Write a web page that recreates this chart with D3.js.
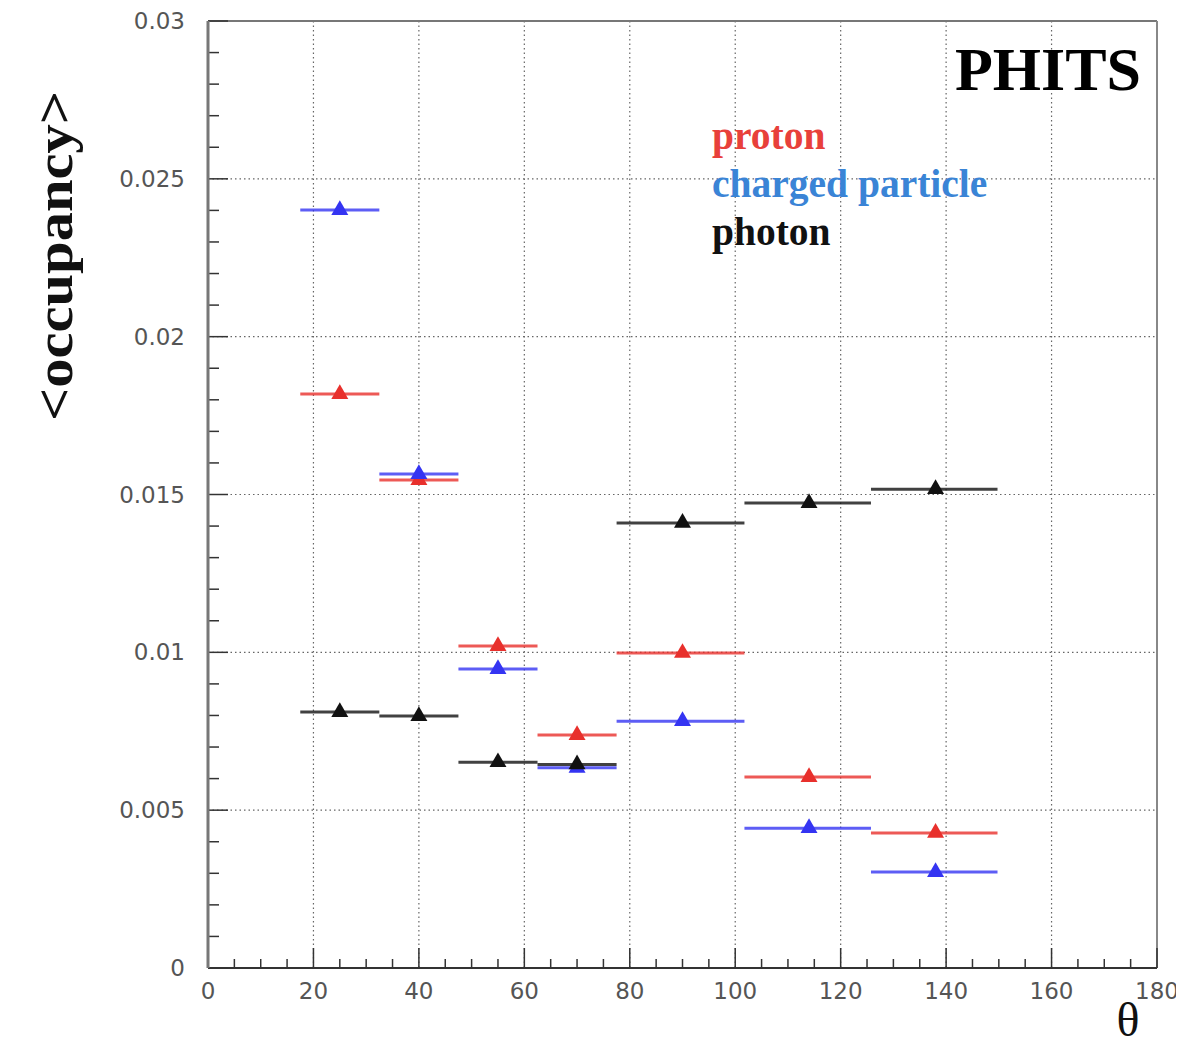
<!DOCTYPE html>
<meta charset="utf-8">
<script src="https://d3js.org/d3.v7.min.js"></script>
<style>
  body { margin: 0; background: #fff; }
</style>
<div id="chart"></div>
<script>
  // bins in theta (deg) and the mean occupancy per particle type
  var binLo = [17.5, 32.5, 47.5, 62.5, 77.5, 101.75, 125.75];
  var binHi = [32.5, 47.5, 62.5, 77.5, 101.75, 125.75, 149.75];
  var theta = [25, 40, 55, 70, 90, 114, 138];
  var proton  = [0.01818, 0.01546, 0.0102, 0.00738, 0.00998, 0.00605, 0.00428];
  var charged = [0.02401, 0.01565, 0.00947, 0.00634, 0.00782, 0.00443, 0.00304];
  var photon  = [0.00811, 0.00798, 0.00652, 0.00645, 0.0141, 0.01473, 0.01517];

  var xTicks = [0, 20, 40, 60, 80, 100, 120, 140, 160, 180];
  var yTicks = [0, 0.005, 0.01, 0.015, 0.02, 0.025, 0.03];
  var legendNames = ["proton", "charged particle", "photon"];

  var plotL = 208, plotR = 1157, plotT = 21, plotB = 968;

  var svg = d3.select("#chart").append("svg")
      .attr("width", 1176)
      .attr("height", 1047);

  var x = d3.scaleLinear().domain([0, 180]).range([plotL, plotR]);
  var y = d3.scaleLinear().domain([0, 0.03]).range([plotB, plotT]);

  // dotted grid
  svg.append("g").selectAll("line")
    .data(xTicks.slice(1, -1))
    .enter().append("line")
      .attr("x1", function(d) { return x(d); })
      .attr("x2", function(d) { return x(d); })
      .attr("y1", plotT).attr("y2", plotB)
      .attr("stroke", "#666").attr("stroke-width", 1.2)
      .attr("stroke-dasharray", "1.5,3");
  svg.append("g").selectAll("line")
    .data(yTicks.slice(1, -1))
    .enter().append("line")
      .attr("y1", function(d) { return y(d); })
      .attr("y2", function(d) { return y(d); })
      .attr("x1", plotL).attr("x2", plotR)
      .attr("stroke", "#666").attr("stroke-width", 1.2)
      .attr("stroke-dasharray", "1.5,3");

  // frame
  svg.append("line").attr("x1", plotL).attr("x2", plotR).attr("y1", plotT).attr("y2", plotT)
    .attr("stroke", "#777").attr("stroke-width", 2);
  svg.append("line").attr("x1", plotR).attr("x2", plotR).attr("y1", plotT).attr("y2", plotB)
    .attr("stroke", "#888").attr("stroke-width", 2);

  // x axis (ticks pointing into the plot)
  var xMinor = d3.range(0, 181, 5).filter(function(d) { return d % 20 !== 0; });
  svg.append("g").selectAll("line").data(xMinor).enter().append("line")
    .attr("x1", function(d) { return x(d); }).attr("x2", function(d) { return x(d); })
    .attr("y1", plotB).attr("y2", plotB - 9)
    .attr("stroke", "#333").attr("stroke-width", 1.5);
  svg.append("g").selectAll("line").data(xTicks).enter().append("line")
    .attr("x1", function(d) { return x(d); }).attr("x2", function(d) { return x(d); })
    .attr("y1", plotB).attr("y2", plotB - 20)
    .attr("stroke", "#333").attr("stroke-width", 1.5);
  svg.append("g").selectAll("text").data(xTicks).enter().append("text")
    .attr("x", function(d) { return x(d); })
    .attr("y", 999)
    .attr("text-anchor", "middle")
    .style("font-family", "DejaVu Sans")
    .style("font-size", "23px")
    .attr("fill", "#555")
    .text(function(d) { return String(d); });
  svg.append("line").attr("x1", plotL).attr("x2", plotR).attr("y1", plotB).attr("y2", plotB)
    .attr("stroke", "#333").attr("stroke-width", 2);

  // y axis
  var yMinor = d3.range(0, 31).map(function(i) { return i * 0.001; })
    .filter(function(d, i) { return i % 5 !== 0; });
  svg.append("g").selectAll("line").data(yMinor).enter().append("line")
    .attr("y1", function(d) { return y(d); }).attr("y2", function(d) { return y(d); })
    .attr("x1", plotL).attr("x2", plotL + 11)
    .attr("stroke", "#333").attr("stroke-width", 1.5);
  svg.append("g").selectAll("line").data(yTicks).enter().append("line")
    .attr("y1", function(d) { return y(d); }).attr("y2", function(d) { return y(d); })
    .attr("x1", plotL).attr("x2", plotL + 20)
    .attr("stroke", "#333").attr("stroke-width", 1.5);
  svg.append("g").selectAll("text").data(yTicks).enter().append("text")
    .attr("x", 185)
    .attr("y", function(d) { return y(d) + 8; })
    .attr("text-anchor", "end")
    .style("font-family", "DejaVu Sans")
    .style("font-size", "23px")
    .attr("fill", "#555")
    .text(function(d) { return String(d); });
  svg.append("line").attr("x1", plotL).attr("x2", plotL).attr("y1", plotT).attr("y2", plotB)
    .attr("stroke", "#777").attr("stroke-width", 3);

  // series
  var series = [
    {name: "proton", values: proton, color: "#e8302c"},
    {name: "charged", values: charged, color: "#3434f2"},
    {name: "photon", values: photon, color: "#111"}
  ];
  var tri = d3.symbol().type(d3.symbolTriangle).size(125);

  series.forEach(function(s) {
    var g = svg.append("g");
    g.selectAll("line").data(s.values).enter().append("line")
      .attr("x1", function(d, i) { return x(binLo[i]); })
      .attr("x2", function(d, i) { return x(binHi[i]); })
      .attr("y1", function(d) { return y(d); })
      .attr("y2", function(d) { return y(d); })
      .attr("stroke", s.color).attr("stroke-width", 3)
      .attr("stroke-opacity", 0.8);
    g.selectAll("path").data(s.values).enter().append("path")
      .attr("d", tri)
      .attr("transform", function(d, i) { return "translate(" + x(theta[i]) + "," + y(d) + ")"; })
      .attr("fill", s.color);
  });

  // legend text
  var legendColors = ["#e8403a", "#3a84d6", "#111"];
  svg.append("g").selectAll("text").data(legendNames).enter().append("text")
    .attr("x", 712)
    .attr("y", function(d, i) { return 149 + i * 48; })
    .style("font-family", "Liberation Serif")
    .style("font-weight", "bold")
    .style("font-size", "39.5px")
    .attr("fill", function(d, i) { return legendColors[i]; })
    .text(function(d) { return d; });

  svg.append("text")
    .attr("x", 955).attr("y", 90)
    .style("font-family", "Liberation Serif")
    .style("font-weight", "bold")
    .style("font-size", "62px")
    .attr("fill", "#000")
    .text("PHITS");

  // axis titles
  svg.append("text")
    .attr("transform", "translate(72,256) rotate(-90)")
    .attr("text-anchor", "middle")
    .style("font-family", "Liberation Serif")
    .style("font-weight", "bold")
    .style("font-size", "52px")
    .attr("textLength", 330)
    .attr("lengthAdjust", "spacingAndGlyphs")
    .attr("fill", "#111")
    .text("<occupancy>");

  svg.append("text")
    .attr("x", 1128).attr("y", 1036)
    .attr("text-anchor", "middle")
    .style("font-family", "Liberation Serif")
    .style("font-size", "48px")
    .attr("fill", "#111")
    .text("θ");
</script>
